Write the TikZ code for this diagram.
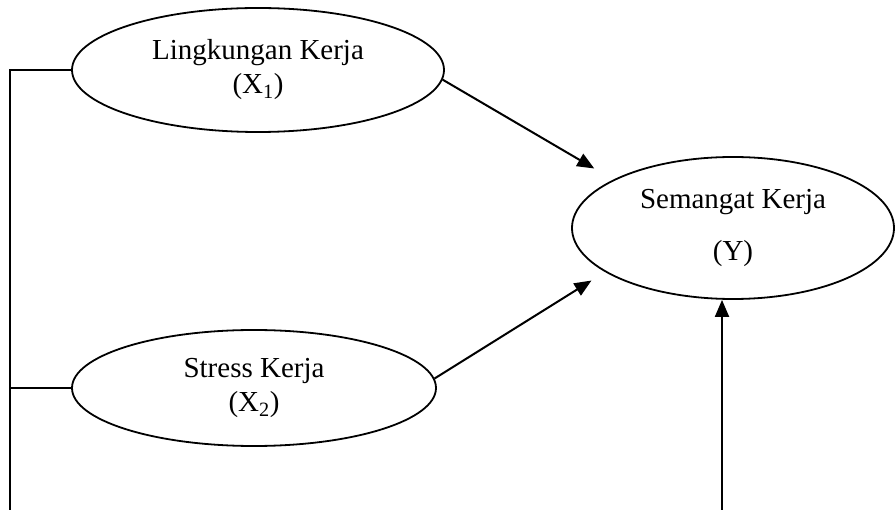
\documentclass[tikz,border=0pt]{standalone}
\usepackage{fontspec}
\setmainfont{Liberation Serif}
\usetikzlibrary{shapes.geometric,arrows.meta}

\begin{document}
\begin{tikzpicture}[x=1pt, y=-1pt, line width=1.8pt,
        var/.style={ellipse, draw, align=center, inner sep=0pt,
        font=\fontsize{29}{34}\selectfont},
        arr/.style={line width=2pt, -{Triangle[length=17pt,width=14pt]}}]
        \useasboundingbox (0,0) rectangle (895,510);
        \node[var, minimum width=372pt, minimum height=124pt] (lk) at (258,70) {Lingkungan Kerja\\(X\textsubscript{1})};
        \node[var, minimum width=364pt, minimum height=116pt] (sk) at (254,388) {Stress Kerja\\(X\textsubscript{2})};
        \node[var, minimum width=322pt, minimum height=142pt] (sm) at (733,228) {Semangat Kerja\\[18pt](Y)};
        \coordinate (kiri) at (10,510);
        \coordinate (bawah) at (722,510);
        \draw (lk.west) -| (kiri);
        \draw (sk.west) -- (sk.west -| kiri);
        \draw[arr, shorten >=22pt] (lk.-3) -- (sm.158);
        \draw[arr, shorten >=16pt] (sk.3) -- (sm.199.5);
        \draw[arr] (bawah) -- (bawah |- sm.south);
\end{tikzpicture}
\end{document}
